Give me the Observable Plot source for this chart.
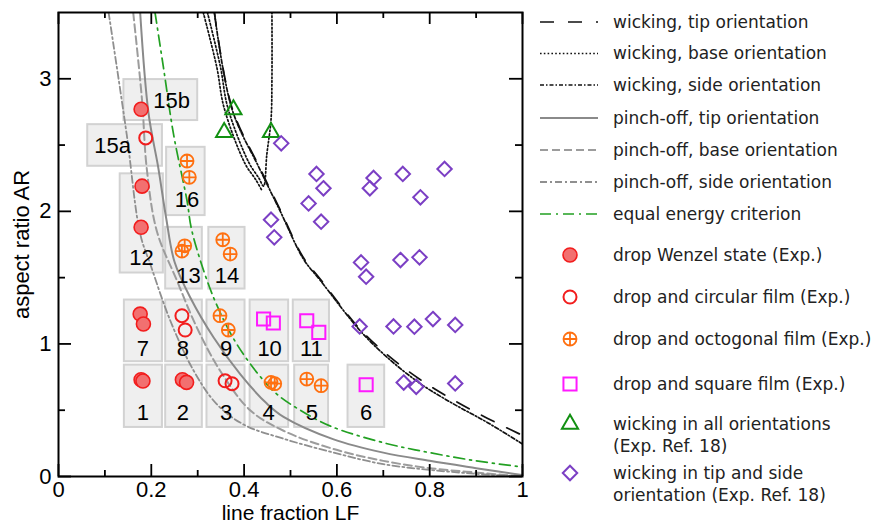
<!DOCTYPE html>
<html><head><meta charset="utf-8">
<script src="https://cdn.jsdelivr.net/npm/d3@7"></script>
<script src="https://cdn.jsdelivr.net/npm/@observablehq/plot@0.6"></script>
<style>body{margin:0;background:#fff}#chart svg{display:block}</style>
</head><body><div id="chart"></div>
<script>
// ---------- data ----------
const wenzelLF = [0.178,0.180,0.178,0.176,0.183,0.178,0.182,0.267,0.276];
const wenzelAR = [2.77,2.19,1.88,1.225,1.15,0.73,0.72,0.73,0.71];
const circLF = [0.188,0.266,0.273,0.359,0.374];
const circAR = [2.554,1.213,1.105,0.722,0.70];
const octLF = [0.277,0.282,0.266,0.272,0.354,0.370,0.348,0.366,0.458,0.466,0.535,0.566];
const octAR = [2.38,2.257,1.70,1.74,1.786,1.678,1.213,1.105,0.71,0.70,0.735,0.685];
const sqLF = [0.442,0.463,0.535,0.561,0.663];
const sqAR = [1.188,1.158,1.175,1.087,0.692];
const triLF = [0.377,0.357,0.458];
const triAR = [2.768,2.597,2.597];
const diaLF = [0.480,0.556,0.571,0.539,0.566,0.458,0.465,0.679,0.671,0.742,0.832,0.780,0.652,0.663,0.737,0.778,0.649,0.722,0.767,0.807,0.855,0.744,0.771,0.855];
const diaAR = [2.513,2.282,2.174,2.06,1.922,1.937,1.804,2.252,2.174,2.282,2.32,2.106,1.615,1.507,1.633,1.653,1.132,1.132,1.13,1.188,1.143,0.709,0.677,0.702];

// curves
const wickTipLF = [0.336,0.374,0.435,0.478,0.528,0.564,0.65,0.708,0.78,0.852,0.924,1.0];
const wickTipAR = [3.5,2.78,2.32,2.01,1.65,1.49,1.11,0.92,0.73,0.575,0.44,0.31];
const wickSideLF = [0.336,0.374,0.435,0.478,0.528,0.564,0.65,0.708,0.78,0.852,0.924,1.0];
const wickSideAR = [3.5,2.77,2.31,2.0,1.64,1.48,1.10,0.90,0.70,0.546,0.408,0.245];
const wickBaseOuterLF = [0.312,0.341,0.357,0.402,0.425,0.438];
const wickBaseOuterAR = [3.5,3.09,2.78,2.36,2.24,2.16];
const wickBaseInnerLF = [0.321,0.349,0.365,0.41,0.432,0.442,0.449,0.458,0.46,0.46];
const wickBaseInnerAR = [3.5,3.09,2.78,2.37,2.25,2.19,2.43,2.69,3.0,3.5];
const pinchTipLF = [0.176,0.194,0.215,0.232,0.25,0.284,0.334,0.392,0.449,0.485,0.593,0.70,0.80,0.90,1.0];
const pinchTipAR = [3.5,2.74,2.33,1.95,1.62,1.35,1.05,0.77,0.55,0.45,0.28,0.18,0.118,0.063,0.01];
const pinchBaseLF = [0.161,0.18,0.19,0.212,0.255,0.298,0.348,0.413,0.485,0.593,0.70,0.80,0.90,1.0];
const pinchBaseAR = [3.5,2.84,2.33,1.85,1.48,1.125,0.80,0.50,0.345,0.207,0.118,0.063,0.03,0.0];
const pinchSideLF = [0.108,0.147,0.176,0.198,0.241,0.291,0.341,0.40,0.485,0.593,0.70,0.80,0.90,1.0];
const pinchSideAR = [3.5,2.58,1.83,1.60,1.175,0.80,0.546,0.39,0.285,0.18,0.093,0.05,0.02,0.0];
const energyLF = [0.208,0.226,0.248,0.277,0.287,0.32,0.348,0.384,0.431,0.471,0.521,0.586,0.70,0.80,0.90,1.0];
const energyAR = [3.5,3.09,2.58,2.08,1.86,1.48,1.24,1.0,0.77,0.62,0.50,0.38,0.255,0.18,0.118,0.072];

// label boxes
const boxLabel = ["1","2","3","4","5","6","7","8","9","10","11","12","13","14","16","15a","15b"];
const boxLF1 = [0.142,0.231,0.320,0.413,0.509,0.624,0.142,0.231,0.320,0.413,0.506,0.133,0.231,0.324,0.233,0.063,0.141];
const boxLF2 = [0.224,0.310,0.402,0.496,0.582,0.703,0.224,0.310,0.402,0.496,0.584,0.226,0.310,0.402,0.316,0.224,0.300];
const boxAR1 = [0.37,0.37,0.37,0.37,0.37,0.37,0.866,0.866,0.866,0.866,0.866,1.535,1.414,1.414,1.968,2.34,2.685];
const boxAR2 = [0.84,0.84,0.84,0.84,0.84,0.84,1.331,1.331,1.331,1.331,1.331,2.283,1.879,1.879,2.483,2.654,2.994];
const labelLF = [0.182,0.268,0.361,0.453,0.546,0.663,0.182,0.268,0.361,0.455,0.545,0.179,0.28,0.363,0.277,0.1165,0.244];
const labelAR = [0.483,0.483,0.483,0.483,0.483,0.483,0.961,0.961,0.961,0.961,0.961,1.647,1.509,1.509,2.087,2.49,2.835];

const xMajor = [0,0.2,0.4,0.6,0.8,1];
const xMinor = [0.1,0.3,0.5,0.7,0.9];
const yMajor = [0,1,2,3];
const yMinor = [0.5,1.5,2.5];

// ---------- helpers ----------
const pts = (xs, ys) => xs.map((x, i) => ({lf: x, ar: ys[i]}));
const octSymbol = {draw(ctx, size){const r = Math.sqrt(size/Math.PI); ctx.moveTo(r,0); ctx.arc(0,0,r,0,2*Math.PI); ctx.moveTo(-r,0); ctx.lineTo(r,0); ctx.moveTo(0,-r); ctx.lineTo(0,r);}};
const boxes = boxLabel.map((l, i) => ({label: l, x1: boxLF1[i], x2: boxLF2[i], y1: boxAR1[i], y2: boxAR2[i], lx: labelLF[i], ly: labelAR[i]}));

const W = 878, H = 525, mL = 58, mT = 12, mR = 356, mB = 49;
const iW = W - mL - mR, iH = H - mT - mB;

const C = {
  black: "#111", gsolid: "#8a8a8a", gdash: "#9c9c9c", gside: "#8f8f8f", green: "#22a022",
  red: "#f21d1d", redFill: "#f27070", orange: "#ff7010", magenta: "#ff1aff", tri: "#129012", purple: "#7b3fc4"
};
const styles = [
  {name: "wicking, tip orientation", lf: wickTipLF, ar: wickTipAR, stroke: C.black, dash: "14,14", w: 1.7},
  {name: "wicking, base orientation", lf: wickBaseOuterLF, ar: wickBaseOuterAR, stroke: C.black, dash: "1.6,2.2", w: 1.7},
  {name: "wicking, side orientation", lf: wickSideLF, ar: wickSideAR, stroke: C.black, dash: "4,2,1.5,2", w: 1.7},
  {name: "pinch-off, tip orientation", lf: pinchTipLF, ar: pinchTipAR, stroke: C.gsolid, dash: null, w: 2},
  {name: "pinch-off, base orientation", lf: pinchBaseLF, ar: pinchBaseAR, stroke: C.gdash, dash: "8,4", w: 2},
  {name: "pinch-off, side orientation", lf: pinchSideLF, ar: pinchSideAR, stroke: C.gside, dash: "7,3,2,3", w: 1.8},
  {name: "equal energy criterion", lf: energyLF, ar: energyAR, stroke: C.green, dash: "11,5,2,5", w: 1.7}
];

const lineMarks = styles.map(s => Plot.line(pts(s.lf, s.ar), {x: "lf", y: "ar", stroke: s.stroke, strokeWidth: s.w, strokeDasharray: s.dash, curve: "catmull-rom", clip: true}));
lineMarks.push(Plot.line(pts(wickBaseInnerLF, wickBaseInnerAR), {x: "lf", y: "ar", stroke: C.black, strokeWidth: 1.7, strokeDasharray: "1.6,2.2", curve: "catmull-rom", clip: true}));

const markers = [
  {name: "drop Wenzel state (Exp.)", lf: wenzelLF, ar: wenzelAR, symbol: "circle", r: 7, stroke: C.red, fill: C.redFill, sw: 1.6},
  {name: "drop and circular film (Exp.)", lf: circLF, ar: circAR, symbol: "circle", r: 6.5, stroke: C.red, fill: "none", sw: 2},
  {name: "drop and octogonal film (Exp.)", lf: octLF, ar: octAR, symbol: octSymbol, r: 6.5, stroke: C.orange, fill: "none", sw: 1.8},
  {name: "drop and square film (Exp.)", lf: sqLF, ar: sqAR, symbol: "square", r: 7.4, stroke: C.magenta, fill: "none", sw: 2},
  {name: ["wicking in all orientations", "(Exp. Ref. 18)"], lf: triLF, ar: triAR, symbol: "triangle", r: 6, stroke: C.tri, fill: "none", sw: 2},
  {name: ["wicking in tip and side", "orientation (Exp. Ref. 18)"], lf: diaLF, ar: diaAR, symbol: "diamond2", r: 6.5, stroke: C.purple, fill: "none", sw: 2}
];
const dotMarks = markers.map(m => Plot.dot(pts(m.lf, m.ar), {x: "lf", y: "ar", symbol: m.symbol, r: m.r, stroke: m.stroke, fill: m.fill, strokeWidth: m.sw}));

const tickW = 1.8;
const plot = Plot.plot({
  width: W, height: H, marginLeft: mL, marginRight: mR, marginTop: mT, marginBottom: mB,
  style: {fontFamily: "'Liberation Sans', Arial, Helvetica, sans-serif", fontSize: "22px", background: "white", color: "black"},
  x: {domain: [0, 1]},
  y: {domain: [0, 3.5]},
  marks: [
    Plot.rect(boxes, {x1: "x1", x2: "x2", y1: "y1", y2: "y2", fill: "#efefef", stroke: "#d2d2d2", strokeWidth: 2}),
    ...lineMarks,
    Plot.text(boxes, {x: "lx", y: "ly", text: "label", fill: "black", fontSize: 22, textAnchor: "middle", lineAnchor: "middle"}),
    ...dotMarks,
    // ticks (inward, all four sides)
    Plot.tickX(xMajor, {x: d => d, insetTop: iH - 12, stroke: "black", strokeWidth: tickW}),
    Plot.tickX(xMajor, {x: d => d, insetBottom: iH - 12, stroke: "black", strokeWidth: tickW}),
    Plot.tickX(xMinor, {x: d => d, insetTop: iH - 6, stroke: "black", strokeWidth: tickW}),
    Plot.tickX(xMinor, {x: d => d, insetBottom: iH - 6, stroke: "black", strokeWidth: tickW}),
    Plot.tickY(yMajor, {y: d => d, insetRight: iW - 13, stroke: "black", strokeWidth: tickW}),
    Plot.tickY(yMajor, {y: d => d, insetLeft: iW - 13, stroke: "black", strokeWidth: tickW}),
    Plot.tickY(yMinor, {y: d => d, insetRight: iW - 7, stroke: "black", strokeWidth: tickW}),
    Plot.tickY(yMinor, {y: d => d, insetLeft: iW - 7, stroke: "black", strokeWidth: tickW}),
    Plot.axisX({ticks: xMajor, tickSize: 0, tickPadding: 5, tickFormat: d => String(d), label: null, fontSize: 22}),
    Plot.axisY({ticks: yMajor, tickSize: 0, tickPadding: 7, tickFormat: d => String(d), label: null, fontSize: 22}),
    Plot.text(["line fraction LF"], {frameAnchor: "bottom", dy: 37, fontSize: 21, textAnchor: "middle", lineAnchor: "middle"}),
    Plot.text(["aspect ratio AR"], {frameAnchor: "left", dx: -37, rotate: -90, fontSize: 22, textAnchor: "middle", lineAnchor: "middle"}),
    Plot.frame({stroke: "black", strokeWidth: 2})
  ]
});
document.getElementById("chart").appendChild(plot);

// ---------- legend (right side, inside the same SVG) ----------
const svg = d3.select(plot);
const lg = svg.append("g").attr("font-family", "'DejaVu Sans', Verdana, sans-serif").attr("font-size", 17).attr("fill", "#222").attr("text-anchor", "start");
const lineRows = [22, 53.5, 85, 118, 150, 182, 214];
styles.forEach((s, i) => {
  const y = lineRows[i];
  lg.append("line").attr("x1", 540).attr("x2", 598).attr("y1", y).attr("y2", y)
    .attr("stroke", s.stroke).attr("stroke-width", s.w).attr("stroke-dasharray", s.dash);
  lg.append("text").attr("x", 613).attr("y", y).attr("dy", "0.35em").text(s.name);
});
const markRows = [255, 297, 339, 384, 424, 473];
markers.forEach((m, i) => {
  const y = markRows[i];
  const type = typeof m.symbol === "string" ? {circle: d3.symbolCircle, square: d3.symbolSquare, triangle: d3.symbolTriangle, diamond2: d3.symbolDiamond2}[m.symbol] : m.symbol;
  lg.append("path").attr("transform", `translate(570,${y})`)
    .attr("d", d3.symbol(type, Math.PI * m.r * m.r)())
    .attr("stroke", m.stroke).attr("fill", m.fill).attr("stroke-width", m.sw);
  const lines = Array.isArray(m.name) ? m.name : [m.name];
  lines.forEach((t, j) => lg.append("text").attr("x", 613).attr("y", y + j * 22).attr("dy", "0.35em").text(t));
});
</script></body></html>
